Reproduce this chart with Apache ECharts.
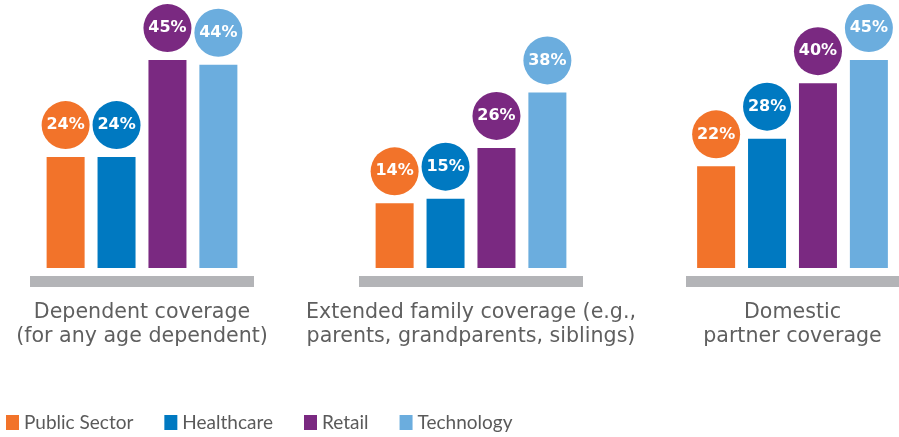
<!DOCTYPE html>
<html>
<head>
<meta charset="utf-8">
<script src="https://cdn.jsdelivr.net/npm/echarts@6/dist/echarts.min.js"></script>
<style>
  html, body { margin: 0; padding: 0; background: #fff; }
  #chart { width: 899px; height: 437px; }
</style>
</head>
<body>
<div id="chart"></div>
<script>
const categories = [
  'Dependent coverage\n(for any age dependent)',
  'Extended family coverage (e.g.,\nparents, grandparents, siblings)',
  'Domestic\npartner coverage'
]
const seriesNames = ['Public Sector', 'Healthcare', 'Retail', 'Technology']
const publicSector = [24, 14, 22]
const healthcare = [24, 15, 28]
const retail = [45, 26, 40]
const technology = [44, 38, 45]
const seriesValues = [publicSector, healthcare, retail, technology]
const colors = ['#f2732a', '#0079c1', '#7a2981', '#6badde']

// one little grid per group so each gets its own grey base
const groupLefts = [30, 359, 686]
const labelFont = '"DejaVu Sans", "Open Sans", sans-serif'
const legendFont = 'Lato, "Open Sans", sans-serif'

let grids = []
let xAxes = []
let yAxes = []
let series = []

groupLefts.forEach((left, g) => {
  grids.push({ left: left, width: 224, top: 37, bottom: 169 })
  xAxes.push({
    type: 'category',
    gridIndex: g,
    data: [categories[g]],
    offset: 13.5,
    axisLine: { onZero: false, lineStyle: { color: '#b3b4b7', width: 11, cap: 'butt' } },
    axisTick: { show: false },
    axisLabel: {
      margin: 19,
      color: '#5f5f5f',
      fontSize: 20.6,
      lineHeight: 24,
      fontFamily: labelFont
    }
  })
  yAxes.push({ type: 'value', gridIndex: g, min: 0, max: 50, show: false })

  seriesNames.forEach((name, s) => {
    series.push({
      name: name,
      type: 'bar',
      xAxisIndex: g,
      yAxisIndex: g,
      barWidth: 38,
      barGap: '34%',
      itemStyle: { color: colors[s] },
      label: {
        show: true,
        position: 'top',
        distance: 8,
        formatter: '{c}%',
        color: '#fff',
        fontSize: 16,
        fontWeight: 'bold',
        fontFamily: labelFont,
        backgroundColor: colors[s],
        borderRadius: 24,
        width: 48,
        height: 48,
        lineHeight: 48,
        align: 'center',
        padding: 0
      },
      data: [seriesValues[s][g]]
    })
  })
})

const option = {
  animation: false,
  grid: grids,
  xAxis: xAxes,
  yAxis: yAxes,
  legend: {
    data: seriesNames,
    left: 1,
    top: 408,
    itemWidth: 13,
    itemHeight: 15,
    itemGap: 31,
    icon: 'rect',
    textStyle: { color: '#5a5a5a', fontSize: 19, fontFamily: legendFont }
  },
  series: series
}

const chart = echarts.init(document.getElementById('chart'))
chart.setOption(option)
</script>
</body>
</html>
